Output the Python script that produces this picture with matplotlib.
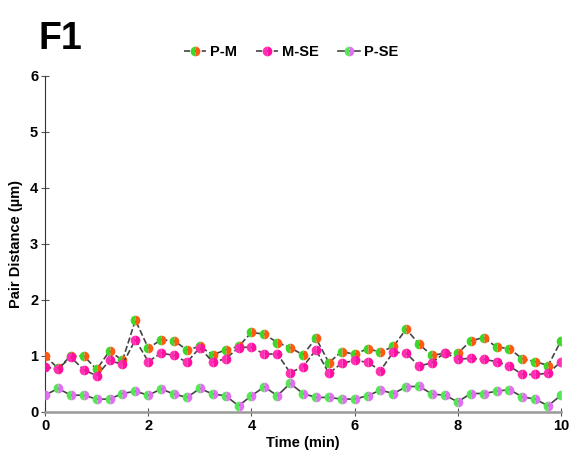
import matplotlib
matplotlib.use("Agg")
import matplotlib.pyplot as plt
import numpy as np

plt.rcParams['font.family'] = ['Liberation Sans', 'DejaVu Sans']

time_min = [i * 0.25 for i in range(41)]

p_m = [1.00, 0.78, 1.00, 1.00, 0.76, 1.09, 0.92, 1.64, 1.14, 1.29, 1.27,
       1.11, 1.17, 1.02, 1.11, 1.17, 1.42, 1.39, 1.24, 1.15, 1.02,
       1.32, 0.88, 1.08, 1.03, 1.13, 1.07, 1.17, 1.48, 1.21, 1.01,
       1.05, 1.05, 1.27, 1.33, 1.16, 1.13, 0.95, 0.90, 0.83, 1.27]

m_se = [0.80, 0.77, 0.98, 0.75, 0.65, 0.92, 0.85, 1.29, 0.90, 1.05, 1.01,
        0.89, 1.15, 0.89, 0.95, 1.15, 1.16, 1.03, 1.04, 0.70, 0.81,
        1.11, 0.69, 0.87, 0.92, 0.89, 0.74, 1.07, 1.05, 0.82, 0.88,
        1.06, 0.94, 0.96, 0.94, 0.90, 0.82, 0.67, 0.67, 0.69, 0.90]

p_se = [0.30, 0.42, 0.30, 0.30, 0.23, 0.23, 0.33, 0.37, 0.30, 0.41, 0.32,
        0.26, 0.42, 0.32, 0.29, 0.11, 0.29, 0.45, 0.29, 0.51, 0.33,
        0.26, 0.26, 0.23, 0.23, 0.29, 0.39, 0.33, 0.45, 0.46, 0.32,
        0.30, 0.18, 0.33, 0.33, 0.37, 0.40, 0.27, 0.23, 0.11, 0.30]

labels = ['P-M', 'M-SE', 'P-SE']
face_left = ['#3fd62a', '#ff2fb4', '#55e655']
face_right = ['#ff5a10', '#ff10a0', '#e070f0']
line_styles = ['--', '--', '-']

fig = plt.figure(figsize=(5.71, 4.57), dpi=100)
ax = fig.add_axes([0.079, 0.0985, 0.9035, 0.7352])

series = [p_m, m_se, p_se]
handles = []
for vals, lab, fl, fr, ls in zip(series, labels, face_left, face_right, line_styles):
    h, = ax.plot(time_min, vals, linestyle=ls, color='#444444', linewidth=1.2,
                 marker='o', markersize=7, fillstyle='left',
                 markerfacecolor=fl, markerfacecoloralt=fr,
                 markeredgewidth=0, label=lab, zorder=3)
    handles.append(h)

ax.set_xlim(0, 10)
ax.set_ylim(0, 6)
ax.set_xticks([0, 2, 4, 6, 8, 10])
ax.set_yticks([0, 1, 2, 3, 4, 5, 6])
for s in ['top', 'right']:
    ax.spines[s].set_visible(False)
ax.spines['left'].set_color('#333333')
ax.spines['left'].set_linewidth(0.8)
ax.spines['bottom'].set_color('#999999')
ax.spines['bottom'].set_linewidth(1.8)
ax.tick_params(axis='both', direction='inout', length=6, width=0.8,
               color='#555555', labelsize=10.5, pad=2)
for lbl in ax.get_xticklabels() + ax.get_yticklabels():
    lbl.set_fontweight('bold')

ax.set_xlabel('Time (min)', fontsize=10.5, fontweight='bold', labelpad=2)
ax.set_ylabel('Pair Distance (\u00b5m)', fontsize=10.5, fontweight='bold', labelpad=5)

fig.text(0.068, 0.955, 'F1', fontsize=27, fontweight='bold', ha='left', va='top')

fig.legend(handles=handles, loc='center', bbox_to_anchor=(0.51, 1 - 52 / 457),
           ncol=3, frameon=False, handlelength=1.5,
           handletextpad=0.3, columnspacing=1.3, prop={'weight': 'bold', 'size': 10.5})

fig.savefig('out.png', dpi=100)
